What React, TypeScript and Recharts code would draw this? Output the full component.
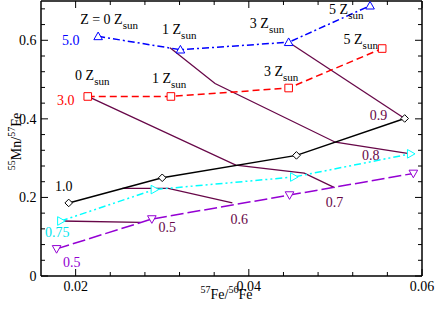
import React from 'react';
import { LineChart, Line, XAxis, YAxis, ReferenceDot } from 'recharts';

const FONT = "'Times New Roman', 'Liberation Serif', 'DejaVu Serif', Times, serif";

// Model tracks (initial mass, Msun) : 57Fe/56Fe vs 55Mn/57Fe for Z = 0,1,3,5 Zsun
const m50X = [0.0226, 0.0321, 0.0446, 0.054];
const m50Y = [0.61, 0.576, 0.595, 0.688];
const m30X = [0.0214, 0.031, 0.0446, 0.0554];
const m30Y = [0.457, 0.457, 0.4785, 0.579];
const m10X = [0.0192, 0.03, 0.0455, 0.058];
const m10Y = [0.186, 0.25, 0.307, 0.401];
const m075X = [0.0183, 0.0291, 0.0452, 0.0587];
const m075Y = [0.14, 0.22, 0.252, 0.311];
const m05X = [0.0178, 0.0288, 0.0447, 0.059];
const m05Y = [0.069, 0.145, 0.206, 0.261];

// iso-lines (maroon)
const iso09X = [0.0446, 0.058];
const iso09Y = [0.595, 0.401];
const iso08X = [0.0309, 0.0361, 0.05, 0.0587];
const iso08Y = [0.581, 0.49, 0.3405, 0.311];
const iso07X = [0.0214, 0.0385, 0.0464, 0.0499];
const iso07Y = [0.457, 0.282, 0.262, 0.225];
const iso06X = [0.0254, 0.0307, 0.0381];
const iso06Y = [0.223, 0.223, 0.186];
const iso05X = [0.0183, 0.0275];
const iso05Y = [0.14, 0.1365];

// annotations
const zTopLabels = [
  { x: 0.02052, y: 0.6404, t: 'Z = 0 Z' },
  { x: 0.02998, y: 0.6168, t: '1 Z' },
  { x: 0.04012, y: 0.632, t: '3 Z' },
  { x: 0.04927, y: 0.6676, t: '5 Z' },
];
const zMidLabels = [
  { x: 0.01994, y: 0.4999, t: '0 Z' },
  { x: 0.02882, y: 0.4912, t: '1 Z' },
  { x: 0.04174, y: 0.5083, t: '3 Z' },
  { x: 0.05094, y: 0.5914, t: '5 Z' },
];
const massLabels = [
  { x: 0.01843, y: 0.5888, t: '5.0', c: '#0000ff' },
  { x: 0.01785, y: 0.4346, t: '3.0', c: '#ff0000' },
  { x: 0.01762, y: 0.2168, t: '1.0', c: '#000000' },
  { x: 0.01646, y: 0.0983, t: '0.75', c: '#00e5ee' },
  { x: 0.01855, y: 0.0236, t: '0.5', c: '#9400d3' },
];
const isoLabels = [
  { x: 0.02958, y: 0.1126, t: '0.5' },
  { x: 0.03789, y: 0.1321, t: '0.6' },
  { x: 0.04889, y: 0.1746, t: '0.7' },
  { x: 0.05306, y: 0.2948, t: '0.8' },
  { x: 0.05398, y: 0.3982, t: '0.9' },
];

const xTicks = [0.02, 0.024, 0.028, 0.032, 0.036, 0.04, 0.044, 0.048, 0.052, 0.056, 0.06];
const yTicks = [0, 0.04, 0.08, 0.12, 0.16, 0.2, 0.24, 0.28, 0.32, 0.36, 0.4, 0.44, 0.48, 0.52, 0.56, 0.6, 0.64, 0.68];

const MAROON = '#670748';

const pts = (xs: number[], ys: number[]) => xs.map((x, i) => ({ x, y: ys[i] }));
const isMajor = (v: number, step: number) => Math.abs(v / step - Math.round(v / step)) < 1e-6;

function Marker({ cx, cy, kind, color }: any) {
  if (cx == null || cy == null) return null;
  const s = 3.8;
  let d = '';
  if (kind === 'up') d = `M${cx},${cy - s - 0.5} L${cx + s + 0.5},${cy + s - 0.5} L${cx - s - 0.5},${cy + s - 0.5} Z`;
  else if (kind === 'down') d = `M${cx},${cy + s + 0.5} L${cx + s + 0.5},${cy - s + 0.5} L${cx - s - 0.5},${cy - s + 0.5} Z`;
  else if (kind === 'right') d = `M${cx + s + 0.5},${cy} L${cx - s + 0.5},${cy - s - 0.5} L${cx - s + 0.5},${cy + s + 0.5} Z`;
  else if (kind === 'sq') d = `M${cx - s},${cy - s} h${2 * s} v${2 * s} h${-2 * s} Z`;
  else if (kind === 'dia') d = `M${cx},${cy - s} L${cx + s},${cy} L${cx},${cy + s} L${cx - s},${cy} Z`;
  return <path d={d} fill="#fff" stroke={color} strokeWidth={1} />;
}

const dotFn = (kind: string, color: string) => (p: any) => (
  <Marker key={`m-${kind}-${p.index}`} cx={p.cx} cy={p.cy} kind={kind} color={color} />
);

const T = (props: any) => <text fontFamily={FONT} style={{ fontFamily: FONT }} fontSize={14} {...props} />;

const BottomTick = (p: any) => {
  const v = p.payload.value;
  const major = isMajor(v, 0.02);
  return (
    <g>
      <line x1={p.x} x2={p.x} y1={p.y} y2={p.y - (major ? 7 : 4)} stroke="#000" strokeWidth={1} />
      {major && (
        <T x={p.x} y={p.y + 15} textAnchor="middle" fill="#000">
          {v.toFixed(2)}
        </T>
      )}
    </g>
  );
};
const TopTick = (p: any) => {
  const v = p.payload.value;
  const major = isMajor(v, 0.02);
  return <line x1={p.x} x2={p.x} y1={p.y} y2={p.y + (major ? 7 : 4)} stroke="#000" strokeWidth={1} />;
};
const LeftTick = (p: any) => {
  const v = p.payload.value;
  const major = isMajor(v, 0.2);
  return (
    <g>
      <line x1={p.x} x2={p.x + (major ? 7 : 4)} y1={p.y} y2={p.y} stroke="#000" strokeWidth={1} />
      {major && (
        <T x={p.x - 4.5} y={p.y + 5} textAnchor="end" fill="#000">
          {v === 0 ? '0' : v.toFixed(1)}
        </T>
      )}
    </g>
  );
};
const RightTick = (p: any) => {
  const v = p.payload.value;
  const major = isMajor(v, 0.2);
  return <line x1={p.x} x2={p.x - (major ? 7 : 4)} y1={p.y} y2={p.y} stroke="#000" strokeWidth={1} />;
};

const zsunShape = (t: string) => (p: any) => (
  <T x={p.cx} y={p.cy} fill="#000">
    {t}
    <tspan fontSize={11} dy={5}>sun</tspan>
  </T>
);
const plainShape = (t: string, c: string) => (p: any) => (
  <T x={p.cx} y={p.cy} fill={c}>
    {t}
  </T>
);

const xLabel = (props: any) => {
  const vb = props.viewBox || {};
  const cx = (vb.x || 0) + (vb.width || 0) / 2 - 5;
  const y = (vb.y || 0) + 23;
  return (
    <T x={cx} y={y} textAnchor="middle" fill="#000">
      <tspan fontSize={10} dy={-6}>57</tspan>
      <tspan dy={6}>Fe/</tspan>
      <tspan fontSize={10} dy={-6}>56</tspan>
      <tspan dy={6}>Fe</tspan>
    </T>
  );
};
const yLabel = (props: any) => {
  const vb = props.viewBox || {};
  const cy = (vb.y || 0) + (vb.height || 0) / 2 + 3;
  const x = 21;
  return (
    <T x={x} y={cy} transform={`rotate(-90, ${x}, ${cy})`} textAnchor="middle" fill="#000">
      <tspan fontSize={10} dy={-6}>55</tspan>
      <tspan dy={6}>Mn/</tspan>
      <tspan fontSize={10} dy={-6}>57</tspan>
      <tspan dy={6}>Fe</tspan>
    </T>
  );
};

export default function App() {
  return (
    <div style={{ position: 'absolute', left: 0, top: 0, background: '#fff' }}>
      <LineChart width={436} height={311} margin={{ top: 0, right: 0, bottom: 0, left: 0 }}>
        <XAxis
          type="number"
          dataKey="x"
          domain={[0.016, 0.06]}
          allowDataOverflow
          ticks={xTicks}
          interval={0}
          height={35}
          tickSize={0}
          tickMargin={0}
          tickLine={false}
          axisLine={{ stroke: '#000', strokeWidth: 1.5 }}
          tick={BottomTick}
          label={xLabel}
        />
        <XAxis
          xAxisId="t"
          orientation="top"
          type="number"
          dataKey="x"
          domain={[0.016, 0.06]}
          allowDataOverflow
          ticks={xTicks}
          interval={0}
          height={1}
          tickSize={0}
          tickMargin={0}
          tickLine={false}
          axisLine={{ stroke: '#000', strokeWidth: 1.5 }}
          tick={TopTick}
        />
        <YAxis
          type="number"
          domain={[0, 0.7]}
          allowDataOverflow
          ticks={yTicks}
          interval={0}
          width={41}
          tickSize={0}
          tickMargin={0}
          tickLine={false}
          axisLine={{ stroke: '#000', strokeWidth: 1.5 }}
          tick={LeftTick}
          label={yLabel}
        />
        <YAxis
          yAxisId="r"
          orientation="right"
          type="number"
          domain={[0, 0.7]}
          allowDataOverflow
          ticks={yTicks}
          interval={0}
          width={14}
          tickSize={0}
          tickMargin={0}
          tickLine={false}
          axisLine={{ stroke: '#000', strokeWidth: 1.5 }}
          tick={RightTick}
        />
        {/* mirrored axes anchor (invisible) */}
        <Line xAxisId="t" yAxisId="r" data={pts(m10X, m10Y)} dataKey="y" stroke="none" dot={false} isAnimationActive={false} />

        {/* iso-lines */}
        <Line data={pts(iso09X, iso09Y)} dataKey="y" stroke={MAROON} strokeWidth={1.3} dot={false} isAnimationActive={false} />
        <Line data={pts(iso08X, iso08Y)} dataKey="y" stroke={MAROON} strokeWidth={1.3} dot={false} isAnimationActive={false} />
        <Line data={pts(iso07X, iso07Y)} dataKey="y" stroke={MAROON} strokeWidth={1.3} dot={false} isAnimationActive={false} />
        <Line data={pts(iso06X, iso06Y)} dataKey="y" stroke={MAROON} strokeWidth={1.3} dot={false} isAnimationActive={false} />
        <Line data={pts(iso05X, iso05Y)} dataKey="y" stroke={MAROON} strokeWidth={1.3} dot={false} isAnimationActive={false} />

        {/* mass tracks */}
        <Line data={pts(m05X, m05Y)} dataKey="y" stroke="#9400d3" strokeWidth={1.5} strokeDasharray="13 4" dot={dotFn('down', '#9400d3')} isAnimationActive={false} />
        <Line data={pts(m075X, m075Y)} dataKey="y" stroke="#00ffff" strokeWidth={1.5} strokeDasharray="7 3 2 3 2 3" dot={dotFn('right', '#00ffff')} isAnimationActive={false} />
        <Line data={pts(m10X, m10Y)} dataKey="y" stroke="#000" strokeWidth={1.5} dot={dotFn('dia', '#000')} isAnimationActive={false} />
        <Line data={pts(m30X, m30Y)} dataKey="y" stroke="#ff0000" strokeWidth={1.5} strokeDasharray="7 4" dot={dotFn('sq', '#ff0000')} isAnimationActive={false} />
        <Line data={pts(m50X, m50Y)} dataKey="y" stroke="#0000ff" strokeWidth={1.5} strokeDasharray="7 3 2 3" dot={dotFn('up', '#0000ff')} isAnimationActive={false} />

        {zTopLabels.map((a, i) => (
          <ReferenceDot key={`zt${i}`} x={a.x} y={a.y} r={0} ifOverflow="visible" shape={zsunShape(a.t)} />
        ))}
        {zMidLabels.map((a, i) => (
          <ReferenceDot key={`zm${i}`} x={a.x} y={a.y} r={0} ifOverflow="visible" shape={zsunShape(a.t)} />
        ))}
        {massLabels.map((a, i) => (
          <ReferenceDot key={`ml${i}`} x={a.x} y={a.y} r={0} ifOverflow="visible" shape={plainShape(a.t, a.c)} />
        ))}
        {isoLabels.map((a, i) => (
          <ReferenceDot key={`il${i}`} x={a.x} y={a.y} r={0} ifOverflow="visible" shape={plainShape(a.t, MAROON)} />
        ))}
      </LineChart>
    </div>
  );
}
